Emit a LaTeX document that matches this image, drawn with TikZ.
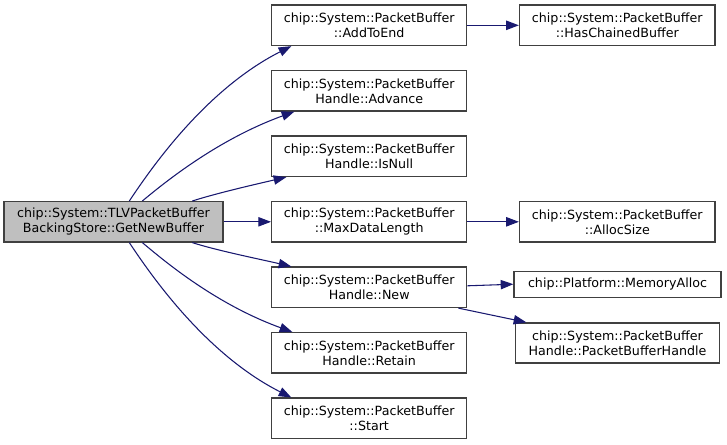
\documentclass[tikz,border=0pt]{standalone}
\usepackage{fontspec}
\setmainfont{DejaVu Sans}
\usetikzlibrary{arrows.meta,calc}
\definecolor{edgeblue}{HTML}{191970}
\definecolor{rootfill}{HTML}{BFBFBF}
\definecolor{boxline}{HTML}{404040}
\begin{document}
\begin{tikzpicture}[x=0.75pt,y=-0.75pt,
  fn/.style={draw=boxline,line width=1pt,fill=white,rectangle,inner sep=0pt,
    align=center,font=\fontsize{9.5}{11.25}\selectfont,text=black},
  rootbox/.style={fn,fill=rootfill},
  call/.style={draw=edgeblue,line width=0.8pt,
    -{Triangle[length=9.5pt,width=7pt,fill=edgeblue]}}]
\useasboundingbox (0,0) rectangle (727,444);
% root
\node[rootbox,minimum width=219*0.75pt,minimum height=40.3*0.75pt] (root) at (113.5,221.8)
  {chip::System::TLVPacketBuffer\\BackingStore::GetNewBuffer};
% column 2
\tikzset{c2/.style={fn,minimum width=195*0.75pt,minimum height=40.3*0.75pt}}
\node[c2] (addtoend) at (369.2,25.3) {chip::System::PacketBuffer\\::AddToEnd};
\node[c2] (advance) at (369.2,90.8) {chip::System::PacketBuffer\\Handle::Advance};
\node[c2] (isnull) at (369.2,156.3) {chip::System::PacketBuffer\\Handle::IsNull};
\node[c2] (maxdl) at (369.2,221.8) {chip::System::PacketBuffer\\::MaxDataLength};
\node[c2] (new) at (369.2,287.3) {chip::System::PacketBuffer\\Handle::New};
\node[c2] (retain) at (369.2,352.8) {chip::System::PacketBuffer\\Handle::Retain};
\node[c2] (start) at (369.2,418.3) {chip::System::PacketBuffer\\::Start};
% column 3
\node[fn,minimum width=195.5*0.75pt,minimum height=40.3*0.75pt] (hcb) at (617.3,25.3)
  {chip::System::PacketBuffer\\::HasChainedBuffer};
\node[fn,minimum width=195.5*0.75pt,minimum height=40.3*0.75pt] (alloc) at (617.3,221.8)
  {chip::System::PacketBuffer\\::AllocSize};
\node[fn,minimum width=207*0.75pt,minimum height=26*0.75pt] (memalloc) at (617.5,284.2)
  {chip::Platform::MemoryAlloc};
\node[fn,minimum width=204*0.75pt,minimum height=40*0.75pt] (pbh) at (617.5,343)
  {chip::System::PacketBuffer\\Handle::PacketBufferHandle};
% edges from root
\draw[call] ($(root.north west)+(126,0)$) .. controls +(20,-30) and +(-87,44) .. ($(addtoend.south west)+(20.3,0)$);
\draw[call] ($(root.north west)+(139,0)$) .. controls +(17,-14) and +(-80,29) .. ($(advance.south west)+(23.3,0)$);
\draw[call] ($(root.north west)+(189,0)$) .. controls +(25,-8) and +(-30,7) .. ($(isnull.south west)+(15.3,0)$);
\draw[call] (root.east) -- (maxdl.west);
\draw[call] ($(root.south west)+(189,0)$) .. controls +(25,8) and +(-30,-7) .. ($(new.north west)+(20.3,0)$);
\draw[call] ($(root.south west)+(139,0)$) .. controls +(17,14) and +(-80,-29) .. ($(retain.north west)+(21.3,0)$);
\draw[call] ($(root.south west)+(126,0)$) .. controls +(20,30) and +(-87,-44) .. ($(start.north west)+(20.3,0)$);
% edges to column 3
\draw[call] (addtoend.east) -- (hcb.west);
\draw[call] (maxdl.east) -- (alloc.west);
\draw[call] ($(new.east)+(0,-1.5)$) -- (memalloc.west);
\draw[call] ($(new.south east)+(-9,0)$) -- ($(pbh.north west)+(11.5,0)$);
\end{tikzpicture}
\end{document}
